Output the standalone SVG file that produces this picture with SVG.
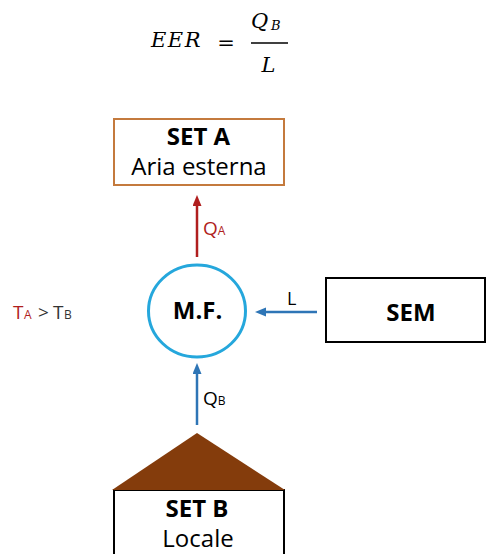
<svg xmlns="http://www.w3.org/2000/svg" width="486" height="554" viewBox="0 0 486 554">
  <style>
    .t { font-family: "Open Sans", "Liberation Sans", sans-serif; fill: #000; }
    .b { font-weight: bold; }
    .math { font-family: "DejaVu Serif", "Liberation Serif", serif; font-style: italic; fill: #000; }
    .red { fill: #b01e1e; }
    .gray { fill: #333; }
  </style>
  <defs>
    <marker id="arrRed" markerUnits="userSpaceOnUse" markerWidth="12" markerHeight="10" refX="0" refY="4.5" orient="auto">
      <path d="M0,0 L11,4.5 L0,9 z" fill="#b01e1e"/>
    </marker>
    <marker id="arrBlue" markerUnits="userSpaceOnUse" markerWidth="12" markerHeight="10" refX="0" refY="4.5" orient="auto">
      <path d="M0,0 L11,4.5 L0,9 z" fill="#2e75b6"/>
    </marker>
  </defs>

  <g id="formula">
    <text class="math" x="151" y="47" font-size="21" letter-spacing="1.5">EER</text>
    <text x="226" y="50" font-size="21" text-anchor="middle" style="font-family:'DejaVu Serif',serif">=</text>
    <line x1="251" y1="43" x2="288" y2="43" stroke="#000" stroke-width="1.3"/>
    <text class="math" x="251" y="28" font-size="21">Q</text>
    <text class="math" x="271" y="30" font-size="13">B</text>
    <text class="math" x="268.5" y="72" font-size="21" text-anchor="middle">L</text>
  </g>

  <g id="connectors">
    <line x1="197" y1="257" x2="197" y2="206" stroke="#b01e1e" stroke-width="2.5" marker-end="url(#arrRed)"/>
    <line x1="317" y1="312" x2="266" y2="312" stroke="#2e75b6" stroke-width="2.5" marker-end="url(#arrBlue)"/>
    <line x1="197" y1="425" x2="197" y2="374" stroke="#2e75b6" stroke-width="2.5" marker-end="url(#arrBlue)"/>
    <text class="t red" x="203" y="235" font-size="19">Q<tspan font-size="12">A</tspan></text>
    <text class="t" x="287" y="305" font-size="18">L</text>
    <text class="t" x="203" y="405" font-size="19">Q<tspan font-size="12">B</tspan></text>
  </g>

  <g id="setA">
    <rect x="114" y="119" width="170" height="66" fill="#fff" stroke="#c47a3d" stroke-width="2"/>
    <text class="t b" x="198.5" y="145" font-size="24" text-anchor="middle">SET A</text>
    <text class="t" x="199" y="175" font-size="24" text-anchor="middle">Aria esterna</text>
  </g>

  <g id="mf">
    <ellipse cx="197" cy="311" rx="48.5" ry="46" fill="#fff" stroke="#25a7dc" stroke-width="3"/>
    <text class="t b" x="197.5" y="319" font-size="24" text-anchor="middle">M.F.</text>
  </g>

  <g id="temps">
    <text class="t" y="319" font-size="19"><tspan class="red" x="13">T</tspan><tspan class="red" x="24" font-size="12">A</tspan><tspan class="gray" x="38">&gt;</tspan><tspan class="gray" x="53">T</tspan><tspan class="gray" x="64" font-size="12">B</tspan></text>
  </g>

  <g id="sem">
    <rect x="326" y="278" width="159" height="64" fill="#fff" stroke="#000" stroke-width="2"/>
    <text class="t b" x="411" y="321" font-size="24" text-anchor="middle">SEM</text>
  </g>

  <g id="setB">
    <rect x="114" y="490" width="170" height="80" fill="#fff" stroke="#000" stroke-width="2"/>
    <polygon points="197,433 112,490 285,490" fill="#843c0c"/>
    <text class="t b" x="197" y="517" font-size="24" text-anchor="middle">SET B</text>
    <text class="t" x="198" y="547" font-size="24" text-anchor="middle">Locale</text>
  </g>
</svg>
